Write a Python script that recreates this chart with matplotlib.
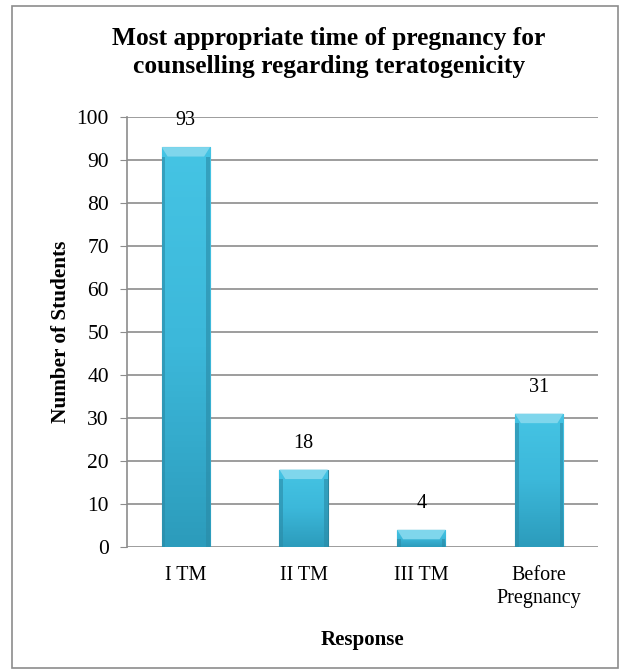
import numpy as np
import matplotlib.pyplot as plt
from matplotlib.patches import Rectangle, Polygon
from matplotlib.colors import LinearSegmentedColormap

plt.rcParams['font.family'] = ['Liberation Serif', 'DejaVu Serif']

categories = ['I TM', 'II TM', 'III TM', 'Before\nPregnancy']
students = [93, 18, 4, 31]
yticks = [0, 10, 20, 30, 40, 50, 60, 70, 80, 90, 100]

fig = plt.figure(figsize=(6.28, 6.72), dpi=100)
ax = fig.add_axes([0.2022, 0.186, 0.75, 0.6399])

x = np.arange(len(categories))
width = 0.41
bars = ax.bar(x, students, width, color='#38b4d6', edgecolor='#2a86a0',
              linewidth=0.8, zorder=3)

# vertical shading inside each bar, lighter at the top
grad = LinearSegmentedColormap.from_list('bevel', ['#2c9cbc', '#3cb8da', '#45c4e4'])
for b in bars:
    x0, y0 = b.get_x(), b.get_y()
    w, h = b.get_width(), b.get_height()
    im = ax.imshow(np.linspace(0, 1, 64).reshape(-1, 1), cmap=grad, aspect='auto',
                   origin='lower', extent=(x0, x0 + w, y0, y0 + h), zorder=3)
    im.set_clip_path(b)
    # light bevel along the top edge
    d = min(h, 2.2)
    bev = Polygon([(x0, y0 + h), (x0 + w, y0 + h), (x0 + w - 0.05, y0 + h - d),
                   (x0 + 0.05, y0 + h - d)], closed=True,
                  facecolor='#7fd6ec', edgecolor='none', zorder=4)
    ax.add_patch(bev)
    # darker side edges
    for sx in (x0, x0 + w - 0.03):
        ax.add_patch(Rectangle((sx, y0), 0.03, h - d, facecolor='#2a8aa6',
                               edgecolor='none', alpha=0.6, zorder=4))
    ax.annotate(f'{int(h)}', (x0 + w / 2, y0 + h), xytext=(0, 12),
                textcoords='offset points', ha='center', va='bottom',
                fontsize=14.5, zorder=5)

ax.set_xlim(-0.5, len(categories) - 0.5)
ax.set_ylim(0, 100)
ax.set_yticks(yticks)
ax.set_xticks(x)
ax.set_xticklabels(categories, fontsize=14.5, linespacing=1.25)
ax.tick_params(axis='y', labelsize=15.5, length=5, color='#8c8c8c', pad=8)
ax.tick_params(axis='x', length=0, pad=14)
ax.yaxis.grid(True, color='#8c8c8c', linewidth=1.2, zorder=0)
ax.set_axisbelow(True)
for side in ('top', 'right', 'bottom'):
    ax.spines[side].set_visible(False)
ax.spines['left'].set_color('#8c8c8c')
ax.spines['left'].set_linewidth(1.2)

ax.set_ylabel('Number of Students', fontsize=15.3, fontweight='bold', labelpad=4)
ax.set_xlabel('Response', fontsize=15, fontweight='bold', labelpad=16)

fig.text(0.524, 0.922, 'Most appropriate time of pregnancy for\ncounselling regarding teratogenicity',
         ha='center', va='center', fontsize=18.4, fontweight='bold', linespacing=1.25)

# outer frame around the chart
fig.patches.append(Rectangle((12 / 628, 4 / 672), 606 / 628, 662 / 672,
                             transform=fig.transFigure, fill=False,
                             edgecolor='#8c8c8c', linewidth=1.2))

fig.savefig('out.png', dpi=100)
